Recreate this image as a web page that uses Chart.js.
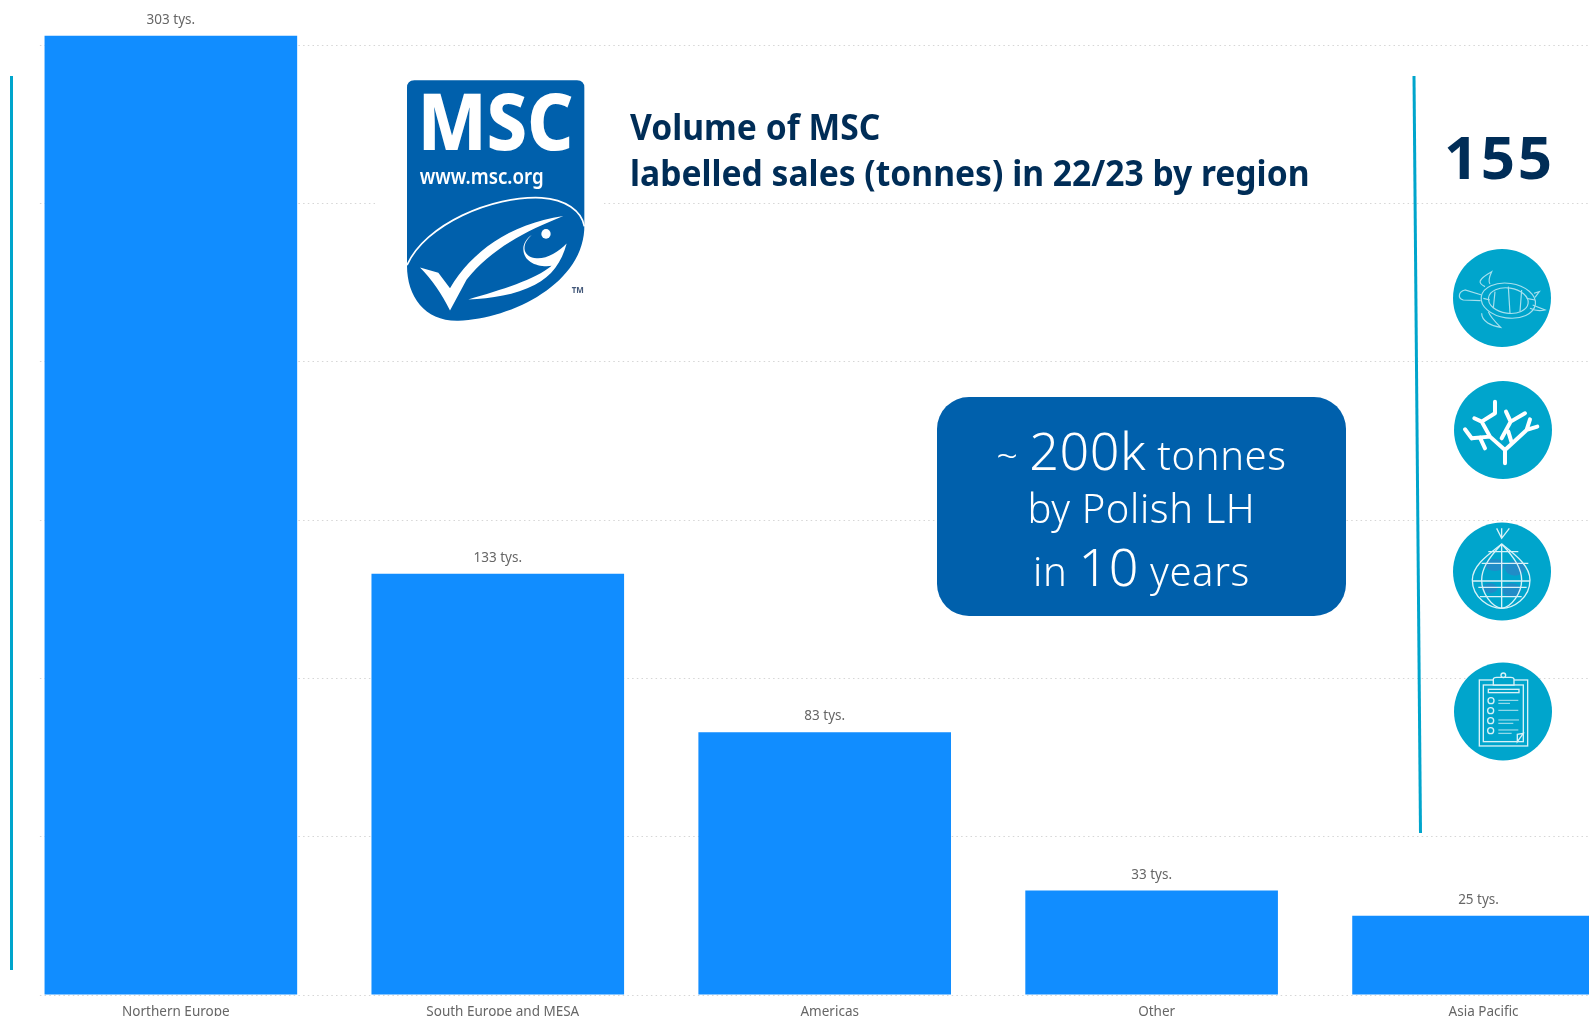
<!DOCTYPE html>
<html><head><meta charset="utf-8">
<script src="https://cdn.jsdelivr.net/npm/chart.js@4"></script>
<style>
html,body{margin:0;padding:0;background:#fff;width:1589px;height:1016px;overflow:hidden}
#wrap{position:relative;width:1589px;height:1016px;overflow:hidden}
#cv{position:absolute;left:0;top:0;width:1650px;height:1016px}
.abs{position:absolute}
.mask{position:absolute;background:#fff}
.title{position:absolute;left:630px;top:104px;font:700 36px/45.5px "Noto Sans";color:#002d57;white-space:nowrap;transform-origin:0 0;transform:scaleX(.934)}
.box{position:absolute;left:937px;top:397px;width:409px;height:219px;background:#0060ac;border-radius:32px;color:#fff;text-align:center;font-family:"Noto Sans";font-weight:300;font-size:40px;letter-spacing:.6px}
.box div{position:absolute;left:0;right:0;white-space:nowrap}
.box .big{font-size:52px}
.n155{position:absolute;left:1444px;top:116px;font:700 60px/80px "Noto Sans";color:#002d57;letter-spacing:2.5px}
</style></head><body><div id="wrap">
<canvas id="cv" width="1650" height="1016"></canvas>
<div class="mask" style="left:0;top:0;width:38px;height:1016px"></div>
<div class="mask" style="left:375px;top:78px;width:229px;height:250px"></div>
<div class="abs" style="left:10px;top:76px;width:3px;height:894px;background:#00a5cc"></div>
<svg class="abs" style="left:395px;top:70px" width="210" height="268" viewBox="0 0 630 780" preserveAspectRatio="none">
<path d="M58 30H546Q568 30 568 52V450C572 620 350 725 190 730C90 732 36 660 36 570V52Q36 30 58 30Z" fill="#0060ac"/>
<text x="68" y="232" font-family="Noto Sans" font-weight="800" font-size="228" fill="#fff" textLength="468" lengthAdjust="spacingAndGlyphs">MSC</text>
<text x="74" y="332" font-family="Noto Sans" font-weight="600" font-size="60" fill="#fff" textLength="372" lengthAdjust="spacingAndGlyphs">www.msc.org</text>
<path d="M36 568C90 450 290 365 440 372C510 376 560 410 568 455" fill="none" stroke="#fff" stroke-width="5"/>
<path d="M75 575L130 590L165 635C230 530 340 450 505 425C390 470 290 520 215 610L165 700C140 650 110 610 75 575Z" fill="#fff"/>
<path d="M220 668C320 640 420 610 470 570C430 575 385 560 385 520C385 505 395 490 410 480C375 510 385 545 425 548C455 550 490 530 515 505C500 560 470 600 420 625C360 655 290 665 220 668Z" fill="#fff"/>
<circle cx="453" cy="477" r="14" fill="#fff"/>
<text x="530" y="650" font-family="Noto Sans" font-weight="700" font-size="24" fill="#44597a">TM</text>
</svg>
<div class="title">Volume of MSC<br>labelled sales (tonnes) in 22/23 by region</div>
<div class="box">
<div style="top:17px"><span style="font-size:38px">~ </span><span class="big">200k</span> tonnes</div>
<div style="top:83px">by Polish LH</div>
<div style="top:133px">in <span class="big">10</span> years</div>
</div>
<svg class="abs" style="left:1400px;top:70px" width="30" height="770"><line x1="14" y1="6" x2="20.5" y2="763" stroke="#00a5cc" stroke-width="3"/></svg>
<div class="n155">155</div>
<svg class="abs" style="left:1440px;top:240px" width="130" height="530" viewBox="1440 240 130 530" fill="none">
<circle cx="1502" cy="298" r="49" fill="#00a5cc"/>
<circle cx="1503" cy="430" r="49" fill="#00a5cc"/>
<circle cx="1502" cy="571.5" r="49" fill="#00a5cc"/>
<circle cx="1503" cy="711.5" r="49" fill="#00a5cc"/>
<g transform="translate(1380 60) scale(.3333)" stroke="#a6e0ee" stroke-width="3.5">
<ellipse cx="385" cy="722" rx="82" ry="52" transform="rotate(8 385 722)"/>
<ellipse cx="385" cy="722" rx="60" ry="38" transform="rotate(8 385 722)"/>
<path d="M345 695L340 745M385 680L390 760M425 690L420 755M310 715L330 720M440 715L465 720"/>
<path d="M305 705L255 690C235 695 232 715 250 720L302 722"/>
<path d="M315 680C295 670 290 660 335 635C328 650 325 665 330 672"/>
<path d="M305 760C305 785 335 798 362 802C345 785 330 770 325 755"/>
<path d="M458 735L495 750C475 755 460 750 450 745M462 700L478 695L465 712"/>
</g>
<g transform="translate(1380 60) scale(.3333)" stroke="#fff" stroke-width="12" stroke-linecap="round" stroke-linejoin="round">
<path d="M375 1210L375 1170L330 1130L305 1085L345 1060L345 1025M305 1085L283 1075M330 1130L275 1135M275 1135L255 1108M300 1133L315 1165"/>
<path d="M375 1170L440 1110L472 1100M440 1110L450 1078M395 1148L385 1115M365 1135L392 1085L435 1060M392 1085L378 1055"/>
</g>
<g transform="translate(1380 500) scale(.3333)" stroke="#d8f2f8" stroke-width="4">
<g fill="#2f82c6" stroke="none" opacity=".7"><ellipse cx="345" cy="195" rx="30" ry="18"/><ellipse cx="405" cy="205" rx="30" ry="22"/><ellipse cx="330" cy="265" rx="22" ry="15"/><ellipse cx="395" cy="270" rx="28" ry="20"/></g>
<path d="M365 132C330 160 277 195 277 240C277 295 330 325 365 325C400 325 450 295 450 240C450 195 400 160 365 132Z"/>
<path d="M365 132C320 180 305 210 305 240C305 280 335 320 365 325C395 320 425 280 425 240C425 210 410 180 365 132M365 132V325"/>
<path d="M325 155H415M305 190H445M277 243H450M295 262H440M300 290H425M350 85L365 115L388 85M365 85V115"/>
</g>
<g transform="translate(1380 500) scale(.3333)" stroke="#d8f2f8" stroke-width="4">
<rect x="298" y="540" width="145" height="198"/><rect x="310" y="555" width="120" height="170"/>
<path d="M340 555V538Q340 532 350 532H392Q402 532 402 538V555Z" fill="#00a5cc"/><circle cx="370" cy="526" r="7"/>
<rect x="325" y="568" width="92" height="10"/>
<circle cx="333" cy="602" r="9"/><circle cx="332" cy="632" r="9"/><circle cx="332" cy="662" r="9"/><circle cx="332" cy="692" r="9"/>
<path d="M355 601H415M355 631H415M355 660H417M355 690H415M355 610H390M355 670H400M355 700H395" stroke-width="2.5"/>
<path d="M412 725L430 700L412 703Z"/>
</g>
</svg>
</div>
<script>
const categories = ["Northern Europe","South Europe and MESA","Americas","Other","Asia Pacific"];
const volumes = [303,133,83,33,25];
const valueLabels = ["303 tys.","133 tys.","83 tys.","33 tys.","25 tys."];
const gridValues = [0,50,100,150,200,250,300];
const axisMax = 303;

const valueLabelPlugin = {
  id:'valueLabels',
  afterDatasetsDraw(c){
    const m=c.getDatasetMeta(0), x=c.ctx;
    x.save();
    x.font='13.5px "Noto Sans"';
    x.fillStyle='#666';
    x.textAlign='center';
    x.textBaseline='alphabetic';
    m.data.forEach((b,i)=>x.fillText(valueLabels[i],b.x,b.y-12));
    x.restore();
  }
};
new Chart(document.getElementById('cv'),{
  type:'bar',
  data:{labels:categories,datasets:[{data:volumes,backgroundColor:'#118dff',barPercentage:1,categoryPercentage:0.7727}]},
  options:{
    responsive:false,animation:false,devicePixelRatio:1,
    layout:{padding:{left:7.4,top:35.5,right:8,bottom:0}},
    plugins:{legend:{display:false},tooltip:{enabled:false}},
    scales:{
      x:{grid:{display:false},border:{display:false},afterFit(s){s.height=21},
         ticks:{color:'#666',font:{family:'"Noto Sans"',size:13.5},labelOffset:5,maxRotation:0,autoSkip:false,padding:1}},
      y:{display:true,min:0,max:axisMax,afterFit(s){s.width=0},
         afterBuildTicks(s){s.ticks=gridValues.map(value=>({value}))},
         grid:{color:'#d6d6d6',lineWidth:1,drawTicks:false,tickLength:0},
         border:{display:false,dash:[1.5,3.2]},
         ticks:{display:false}}
    }
  },
  plugins:[valueLabelPlugin]
});
</script>
</body></html>
